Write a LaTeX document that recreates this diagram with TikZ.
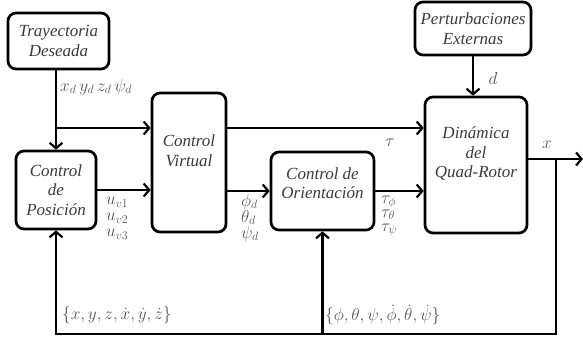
\documentclass[tikz,border=0pt]{standalone}
\usepackage{fontspec}
\setmainfont{Liberation Serif}
\usetikzlibrary{arrows.meta,calc}
\definecolor{txt}{HTML}{3A3A3A}
\definecolor{lbl}{HTML}{555555}
\begin{document}
\begin{tikzpicture}[x=1pt,y=-1pt,
  blk/.style={draw=black,line width=2.7pt,rounded corners=8pt,align=center,
    font=\fontsize{17}{19.5}\selectfont\itshape,text=txt,inner sep=0pt},
  lab/.style={text=lbl,font=\fontsize{17}{17}\selectfont,inner sep=0pt,align=left},
  arr/.style={line width=2.7pt,-{Straight Barb[length=5.5pt,width=13pt,line width=2.2pt]}},
  ln/.style={line width=2.7pt}]
\useasboundingbox (0,0) rectangle (583,343);
% blocks
\node[blk,minimum width=101pt,minimum height=56pt] (tray) at (58.5,41) {Trayectoria\\Deseada};
\node[blk,minimum width=116pt,minimum height=53pt] (pert) at (473,28.5) {Perturbaciones\\Externas};
\node[blk,minimum width=80pt,minimum height=78pt] (pos) at (56,190) {Control\\de\\Posición};
\node[blk,minimum width=74pt,minimum height=139pt] (virt) at (189,162.5) {Control\\Virtual\\[4pt]};
\node[blk,minimum width=103pt,minimum height=78pt] (ori) at (322.5,191) {Control de\\Orientación\\[-4pt]};
\node[blk,minimum width=102pt,minimum height=136pt] (din) at (476,165) {Dinámica\\del\\Quad-Rotor\\[6pt]};
% coordinates
\coordinate (j1) at (56,128);
\coordinate (out) at (583,159);
\coordinate (br) at (556,159);
\coordinate (b1) at (556,334);
% connectors
\draw[arr] (tray.south -| j1) -- (pos.north -| j1);
\draw[arr] (j1) -- (virt.west |- j1);
\draw[arr] (virt.east |- j1) -- (din.west |- j1);
\draw[arr] (pos.east) -- (pos.east -| virt.west);
\draw[arr] (virt.east |- ori.west) -- (ori.west);
\draw[arr] (ori.east) -- (ori.east -| din.west);
\draw[arr] (pert.south) -- (pert.south |- din.north);
\draw[arr] (din.east |- out) -- (out);
\draw[arr] (br) -- (b1) -- (b1 -| pos.south) -- (pos.south);
\draw[arr] (b1 -| ori.south) -- (ori.south);
% labels
\node[lab,anchor=west] (lxd) at (60,87) {$x_d\,y_d\,z_d\,\psi_d$};
\node[lab,anchor=west] (lu) at (106,218) {$u_{v1}$\\[-1pt]$u_{v2}$\\[-1pt]$u_{v3}$};
\node[lab,anchor=west] (lph) at (241,218) {$\phi_d$\\[-1pt]$\theta_d$\\[-1pt]$\psi_d$};
\node[lab,anchor=west] (lta) at (381,216) {$\tau_\phi$\\[-3pt]$\tau_\theta$\\[-3pt]$\tau_\psi$};
\node[lab] (ltau) at (390,143) {$\tau$};
\node[lab] (ld) at (493,78) {$d$};
\node[lab] (lx) at (547,145) {$x$};
\node[lab,anchor=west] (lfb1) at (62,315) {$\{x,y,z,\dot x,\dot y,\dot z\}$};
\node[lab,anchor=west] (lfb2) at (325,315) {$\{\phi,\theta,\psi,\dot\phi,\dot\theta,\dot\psi\}$};
\end{tikzpicture}
\end{document}
